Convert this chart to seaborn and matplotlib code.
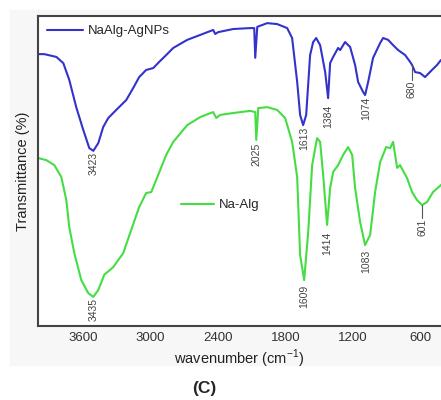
import numpy as np
import pandas as pd
import seaborn as sns
import matplotlib.pyplot as plt
from matplotlib.patches import Rectangle
from matplotlib.lines import Line2D

# NaAlg-AgNPs spectrum (wavenumber, transmittance in arbitrary %)
wn_agnp = [4000, 3944, 3837, 3775, 3722, 3660, 3597, 3544, 3508, 3464, 3420, 3375,
           3304, 3215, 3153, 3100, 3038, 2975, 2922, 2860, 2797, 2673, 2557, 2442,
           2424, 2397, 2264, 2113, 2077, 2068, 2050, 1962, 1873, 1784, 1740, 1695,
           1669, 1642, 1615, 1580, 1553, 1526, 1491, 1446, 1420, 1402, 1375, 1331,
           1313, 1269, 1224, 1180, 1153, 1109, 1091, 1064, 1020, 957, 931, 886,
           842, 797, 735, 691, 673, 646, 602, 558, 496, 451, 416]
t_agnp = [87.7, 87.7, 86.8, 84.8, 79.4, 70.6, 63.2, 57.4, 56.5, 59.0, 64.2, 67.1,
          69.7, 72.9, 76.8, 80.3, 82.6, 83.2, 85.2, 87.4, 89.7, 92.3, 93.9, 95.5,
          94.2, 94.8, 95.8, 96.1, 96.1, 86.5, 96.5, 97.7, 97.4, 96.1, 92.9, 78.7,
          68.1, 64.8, 68.1, 87.4, 91.6, 92.9, 90.6, 81.9, 73.5, 84.8, 86.8, 89.7,
          89.0, 91.6, 90.0, 84.2, 78.7, 75.5, 74.5, 78.7, 86.5, 91.3, 92.9, 92.3,
          90.6, 89.0, 87.4, 85.2, 84.2, 81.9, 81.6, 80.3, 82.6, 84.2, 85.8]

# Na-Alg spectrum
wn_alg = [4000, 3926, 3855, 3793, 3748, 3722, 3677, 3615, 3553, 3508, 3464, 3411,
          3331, 3242, 3171, 3100, 3038, 2993, 2949, 2860, 2797, 2673, 2557, 2442,
          2415, 2380, 2264, 2113, 2068, 2059, 2041, 1962, 1873, 1802, 1740, 1695,
          1669, 1633, 1597, 1562, 1518, 1491, 1464, 1429, 1402, 1375, 1331, 1286,
          1242, 1206, 1180, 1135, 1091, 1046, 1002, 957, 904, 868, 842, 806,
          780, 718, 673, 629, 584, 540, 487, 416]
t_alg = [54.2, 53.5, 51.9, 48.1, 40.6, 31.9, 23.5, 14.8, 10.6, 9.4, 11.6, 16.5,
         19.0, 23.5, 31.0, 38.4, 42.9, 43.2, 47.1, 55.2, 59.4, 64.8, 67.4, 69.0,
         67.1, 68.1, 68.7, 69.4, 69.0, 60.0, 70.3, 70.6, 69.7, 67.1, 59.4, 48.0,
         22.9, 14.8, 30.3, 51.9, 60.6, 59.4, 48.7, 32.6, 44.5, 49.7, 51.9, 55.2,
         57.7, 55.2, 44.5, 33.5, 26.1, 29.4, 43.2, 52.9, 57.7, 57.4, 59.4, 51.0,
         51.9, 47.7, 43.2, 40.6, 39.0, 40.0, 43.2, 45.5]

# peak labels: text, x position, top of text (transmittance)
peak_text = ['3423', '2025', '1613', '1384', '1074', '680',
             '3435', '1609', '1414', '1083', '601']
peak_x = [3508, 2059, 1633, 1420, 1082, 676, 3508, 1633, 1429, 1082, 584]
peak_y = [56.1, 59.0, 64.2, 71.3, 73.9, 79.0, 9.0, 13.2, 30.3, 24.5, 34.5]
# leader lines for the two small peaks: (x, from, to)
leaders = [(676, 84.5, 79.4), (584, 39.0, 34.8)]

xticks = [3600, 3000, 2400, 1800, 1200, 600]

blue = '#3333cc'
green = '#44dd44'

sns.set_style('white')
plt.rcParams['font.family'] = ['Liberation Sans', 'DejaVu Sans']
plt.rcParams['mathtext.fontset'] = 'custom'
plt.rcParams['mathtext.rm'] = 'Liberation Sans'

fig = plt.figure(figsize=(4.41, 4.0), dpi=100)
fig.patches.append(Rectangle((10 / 441, 1 - 365 / 400), 1, 355 / 400,
                             transform=fig.transFigure, color='#f7f7f7', zorder=-10))
ax = fig.add_axes([38 / 441, 1 - 326 / 400, 1 - 38 / 441, 310 / 400])
ax.set_facecolor('white')

df1 = pd.DataFrame({'wn': wn_agnp, 't': t_agnp})
df2 = pd.DataFrame({'wn': wn_alg, 't': t_alg})
sns.lineplot(data=df1, x='wn', y='t', ax=ax, color=blue, lw=1.5, sort=False, legend=False)
sns.lineplot(data=df2, x='wn', y='t', ax=ax, color=green, lw=1.5, sort=False, legend=False)

ax.set_xlim(4000, 416)
ax.set_ylim(0, 100)
ax.set_xticks(xticks)
ax.set_yticks([])
ax.tick_params(axis='x', length=0, labelsize=9.5, labelcolor='#333333', pad=4)

for s in ['left', 'top', 'bottom']:
    ax.spines[s].set_color('#444444')
    ax.spines[s].set_linewidth(1.5)
ax.spines['right'].set_visible(False)

for txt, x, y in zip(peak_text, peak_x, peak_y):
    ax.text(x, y, txt, rotation=90, ha='center', va='top', fontsize=7.5, color='#444444')
for x, y0, y1 in leaders:
    ax.plot([x, x], [y0, y1], color='#555555', lw=0.8)

leg1 = ax.legend([Line2D([], [], color=blue, lw=1.5)], ['NaAlg-AgNPs'],
                 loc='upper left', bbox_to_anchor=(0.0, 1.0), frameon=False,
                 fontsize=9.5, handlelength=2.7, handletextpad=0.35, borderaxespad=0.3)
ax.add_artist(leg1)
ax.legend([Line2D([], [], color=green, lw=1.5)], ['Na-Alg'],
          loc='center left', bbox_to_anchor=(0.325, 0.39), frameon=False,
          fontsize=9.5, handlelength=2.5, handletextpad=0.35)

ax.set_xlabel('wavenumber (cm$^{\\mathregular{-1}}$)', fontsize=10.5, color='#222222', labelpad=3)
ax.set_ylabel('Transmittance (%)', fontsize=10.5, color='#222222', labelpad=6)
fig.text(204 / 441, 1 - 388 / 400, '(C)', fontsize=12.5, fontweight='bold', ha='center', va='center')

fig.savefig('out.png', dpi=100)
